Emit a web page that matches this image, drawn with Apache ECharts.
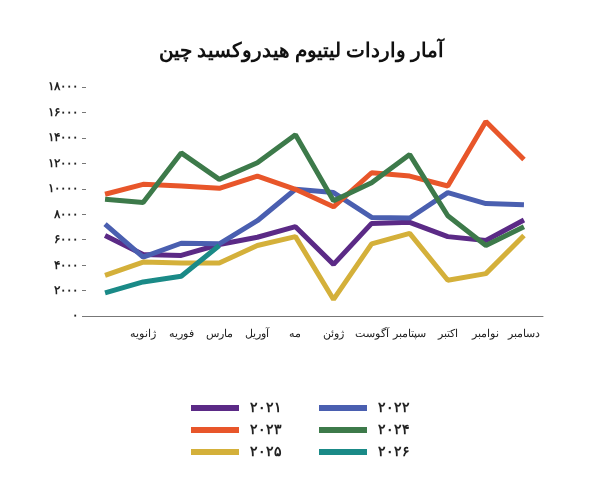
<!DOCTYPE html>
<html>
<head>
<meta charset="utf-8">
<script src="https://cdn.jsdelivr.net/npm/echarts@6/dist/echarts.min.js"></script>
<style>html,body{margin:0;background:#fff}#c{width:603px;height:503px}</style>
</head>
<body>
<div id="c"></div>
<script>
// داده‌ها (برچسب‌ها همان‌طور که در تصویر جابه‌جا آمده‌اند)
const months = ['', 'ژانویه', 'فوریه', 'مارس', 'آوریل', 'مه', 'ژوئن', 'آگوست', 'سپتامبر', 'اکتبر', 'نوامبر', 'دسامبر'];
const years = ['2021', '2022', '2023', '2024', '2025', '2026'];
const y2021 = [6320, 4840, 4760, 5620, 6190, 7020, 4060, 7280, 7360, 6240, 5930, 7540];
const y2022 = [7230, 4630, 5720, 5670, 7490, 9960, 9700, 7750, 7700, 9700, 8840, 8740];
const y2023 = [9570, 10350, 10220, 10040, 11000, 9960, 8580, 11260, 11000, 10220, 15290, 12300];
const y2024 = [9180, 8920, 12820, 10740, 12040, 14250, 9050, 10480, 12690, 7880, 5540, 7020];
const y2025 = [3200, 4240, 4160, 4160, 5540, 6240, 1300, 5670, 6500, 2810, 3330, 6320];
const y2026 = [1820, 2680, 3120, 5540];
const colors = ['#5b2a86', '#4a5fb0', '#e8562a', '#3d7a4a', '#d4b03a', '#1a8a87'];

const fa = s => String(s).replace(/\d/g, d => '۰۱۲۳۴۵۶۷۸۹'[d]);
const all = [y2021, y2022, y2023, y2024, y2025, y2026];

const legendBase = {
  orient: 'vertical', top: 396,
  itemWidth: 48, itemHeight: 6, itemGap: 8,
  icon: 'rect',
  formatter: n => fa(n),
  textStyle: { fontFamily: 'Noto Sans', fontSize: 14, fontWeight: 'bold', color: '#222', padding: [0, 0, 0, 6] }
};

const chart = echarts.init(document.getElementById('c'));
chart.setOption({
  color: colors,
  title: {
    text: 'آمار واردات لیتیوم هیدروکسید چین',
    left: 'center', top: 36,
    textStyle: { fontFamily: 'Noto Sans', fontSize: 20, fontWeight: 'bold', color: '#111' }
  },
  legend: [
    Object.assign({ left: 186, data: ['2021', '2023', '2025'] }, legendBase),
    Object.assign({ left: 314, data: ['2022', '2024', '2026'] }, legendBase)
  ],
  grid: { left: 86, right: 60, top: 87, bottom: 187 },
  xAxis: {
    type: 'category', data: months, boundaryGap: true,
    axisLine: { lineStyle: { color: '#777' } },
    axisTick: { lineStyle: { color: '#777' } },
    axisLabel: { fontFamily: 'Noto Sans', fontSize: 11, color: '#222', interval: 0, margin: 12 }
  },
  yAxis: {
    type: 'value', min: 0, max: 18000, interval: 2000,
    splitLine: { show: false },
    axisLine: { show: false },
    axisTick: { show: true, length: 4, lineStyle: { color: '#777' } },
    axisLabel: { formatter: v => fa(v), fontFamily: 'Noto Sans', fontSize: 12, fontWeight: 'bold', color: '#222' }
  },
  series: years.map((y, i) => ({
    name: y, type: 'line', data: all[i], showSymbol: false,
    lineStyle: { width: 5 }
  }))
});
</script>
</body>
</html>
